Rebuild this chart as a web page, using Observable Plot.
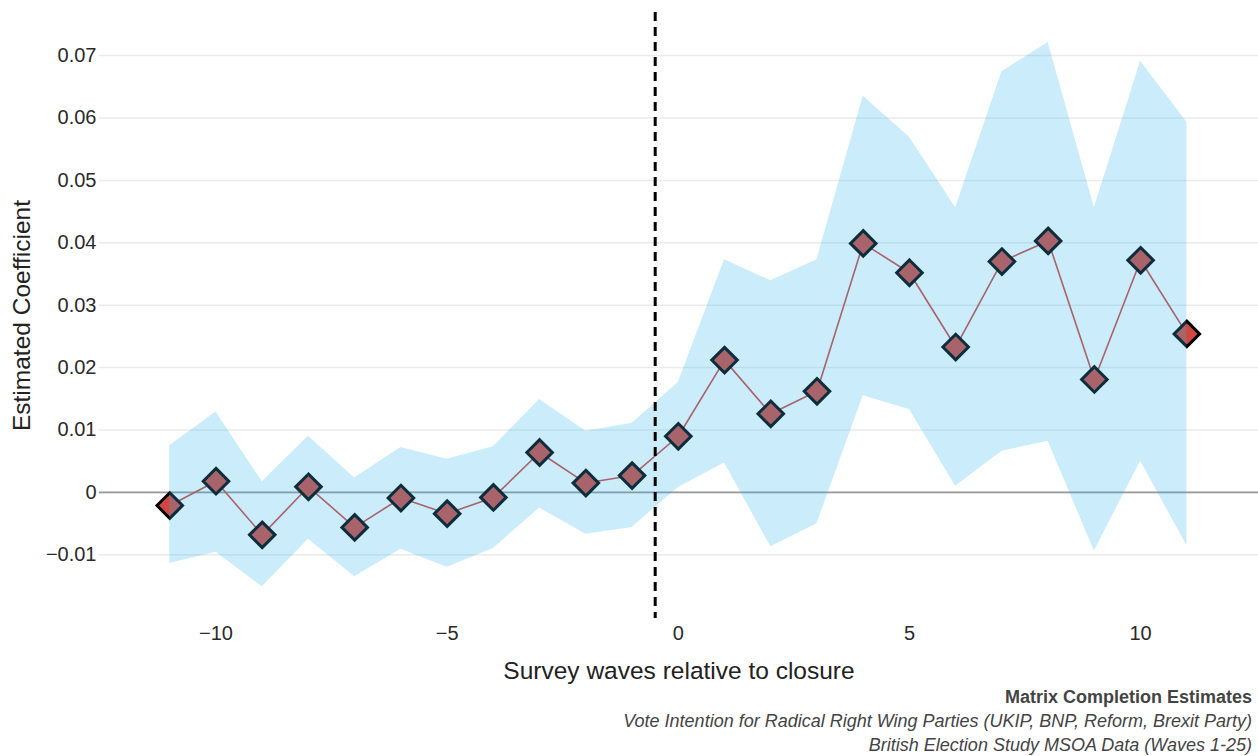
<!DOCTYPE html>
<html>
<head>
<meta charset="utf-8">
<script src="https://cdn.jsdelivr.net/npm/d3@7"></script>
<script src="https://cdn.jsdelivr.net/npm/@observablehq/plot@0.6"></script>
<style>
  body { margin: 0; background: #fff; font-family: "Liberation Sans", Arial, sans-serif; }
  #caption { width: 1252px; text-align: right; color: #444; font-size: 18px; line-height: 24px; }
  #caption .b { font-weight: bold; }
  #caption .i { font-style: italic; }
</style>
</head>
<body>
<div id="chart"></div>
<div id="caption">
  <div class="b">Matrix Completion Estimates</div>
  <div class="i">Vote Intention for Radical Right Wing Parties (UKIP, BNP, Reform, Brexit Party)</div>
  <div class="i">British Election Study MSOA Data (Waves 1-25)</div>
</div>
<script>
const waves = [-11,-10,-9,-8,-7,-6,-5,-4,-3,-2,-1,0,1,2,3,4,5,6,7,8,9,10,11];
const estimate = [-0.0021, 0.0018, -0.0068, 0.0009, -0.0056, -0.0009, -0.0034, -0.0008, 0.0064, 0.0015, 0.0027, 0.0090, 0.0212, 0.0126, 0.0162, 0.0399, 0.0352, 0.0233, 0.0370, 0.0403, 0.0181, 0.0372, 0.0254];
const upper = [0.0075, 0.0129, 0.0017, 0.0090, 0.0023, 0.0072, 0.0053, 0.0073, 0.0149, 0.0098, 0.0111, 0.0176, 0.0373, 0.0339, 0.0373, 0.0635, 0.0569, 0.0456, 0.0674, 0.0721, 0.0456, 0.0691, 0.0593];
const lower = [-0.0114, -0.0096, -0.0151, -0.0075, -0.0135, -0.0091, -0.0120, -0.0090, -0.0025, -0.0067, -0.0056, 0.0008, 0.0047, -0.0087, -0.0050, 0.0155, 0.0133, 0.0010, 0.0066, 0.0082, -0.0094, 0.0050, -0.0085];
const xTicks = [-10, -5, 0, 5, 10];
const yTicks = [-0.01, 0, 0.01, 0.02, 0.03, 0.04, 0.05, 0.06, 0.07];
const closure = -0.5;

const data = waves.map((w, i) => ({wave: w, est: estimate[i], lo: lower[i], hi: upper[i]}));
const minus = s => s.replace("-", "\u2212");
const red = "#d04840";

const chart = Plot.plot({
  width: 1258,
  height: 685,
  marginLeft: 99,
  marginRight: 0,
  marginTop: 12,
  marginBottom: 67,
  style: {fontFamily: "'Liberation Sans', Arial, sans-serif", fontSize: "20px", color: "#2a2a2a", background: "#fff"},
  x: {domain: [-12.52, 12.55]},
  y: {domain: [-0.0202, 0.0769]},
  marks: [
    Plot.gridY(yTicks, {stroke: "#ebebeb", strokeOpacity: 1, strokeWidth: 1.5}),
    Plot.ruleY([0], {stroke: "#999", strokeWidth: 1.8}),
    Plot.line(data, {x: "wave", y: "est", stroke: red, strokeWidth: 1.6}),
    Plot.dot(data, {x: "wave", y: "est", symbol: "diamond2", r: 11.5, fill: red, stroke: "#000", strokeWidth: 3}),
    Plot.areaY(data, {x: "wave", y1: "lo", y2: "hi", fill: "#2fb5ed", fillOpacity: 0.25}),
    Plot.ruleX([closure], {stroke: "#000", strokeWidth: 3, strokeDasharray: "9,6"}),
    Plot.axisX(xTicks, {tickSize: 0, tickPadding: 7, tickFormat: d => minus(String(d)), label: null, fontSize: 20}),
    Plot.axisY(yTicks, {tickSize: 0, tickPadding: 3, tickFormat: d => minus(String(d)), label: null, fontSize: 20}),
    Plot.text(["Survey waves relative to closure"], {frameAnchor: "bottom", dy: 60, fontSize: 24.5, fill: "#222"}),
    Plot.text(["Estimated Coefficient"], {frameAnchor: "left", dx: -77, rotate: -90, textAnchor: "middle", fontSize: 24.5, fill: "#222"})
  ]
});
document.getElementById("chart").appendChild(chart);
</script>
</body>
</html>
